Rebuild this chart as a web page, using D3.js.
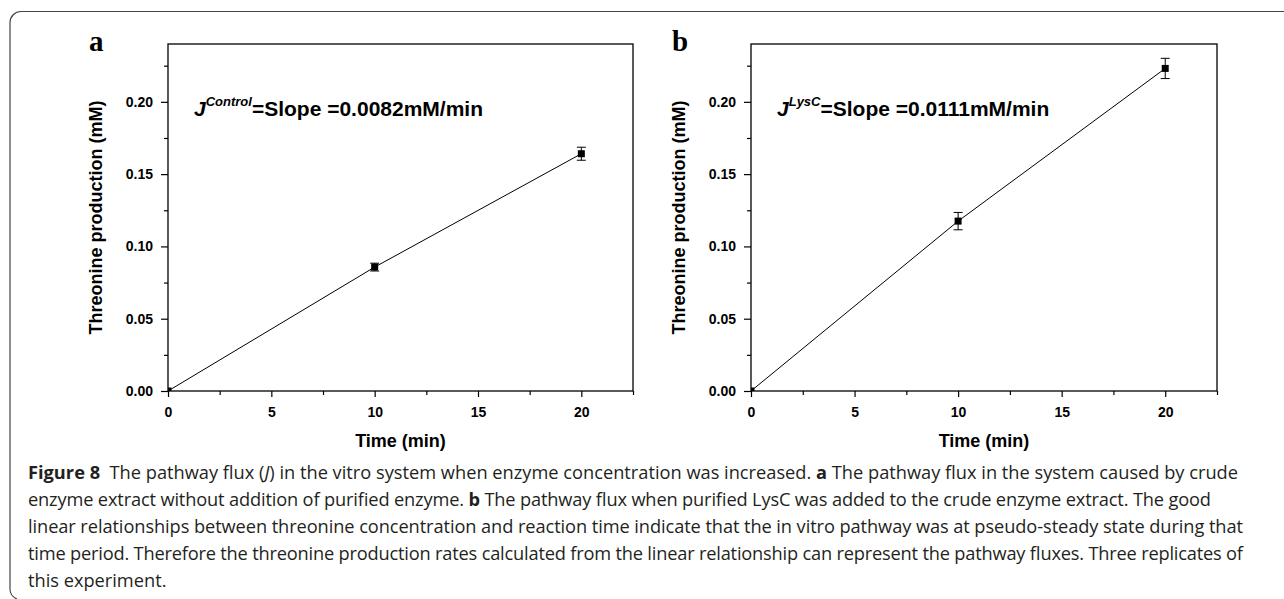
<!DOCTYPE html>
<html>
<head>
<meta charset="UTF-8">
<script src="https://d3js.org/d3.v7.min.js"></script>
<style>
  body { margin: 0; background: #fff; }
  svg { display: block; }
  .tick text { font-family: "Liberation Sans", Arial, sans-serif; font-weight: bold; font-size: 14px; fill: #000; }
  .tick line { stroke: #000; stroke-width: 1.2; }
  .caption { font-family: "Open Sans", sans-serif; fill: #231f20; white-space: pre; }
</style>
</head>
<body>
<svg width="1284" height="599"></svg>
<script>
// values
var time = [0, 10, 20];
var controlVals = [0, 0.0857, 0.1641];
var controlErr = [0, 0.0027, 0.0045];
var lyscVals = [0, 0.1175, 0.2231];
var lyscErr = [0, 0.006, 0.007];

var xTicks = [0, 5, 10, 15, 20];
var xMinor = [2.5, 7.5, 12.5, 17.5, 22.5];
var yTicks = [0, 0.05, 0.10, 0.15, 0.20];
var yMinor = [0.025, 0.075, 0.125, 0.175, 0.225];

var panelLetters = ["a", "b"];
var supLabels = ["Control", "LysC"];
var slopeLabels = ["=Slope =0.0082mM/min", "=Slope =0.0111mM/min"];

var captionLines = [
  [["Figure 8", "b"], ["  The pathway flux ("], ["J", "i"], [") in the vitro system when enzyme concentration was increased. "], ["a", "b"], [" The pathway flux in the system caused by crude"]],
  [["enzyme extract without addition of purified enzyme. "], ["b", "b"], [" The pathway flux when purified LysC was added to the crude enzyme extract. The good"]],
  [["linear relationships between threonine concentration and reaction time indicate that the in vitro pathway was at pseudo-steady state during that"]],
  [["time period. Therefore the threonine production rates calculated from the linear relationship can represent the pathway fluxes. Three replicates of"]],
  [["this experiment."]]
];
var captionWidths = [1210, 1183, 1215, 1215, 0];

var svg = d3.select("svg");

// outer frame (top + left, rounded corners)
svg.append("path")
  .attr("d", "M1284,11.5 H21 A11,11 0 0 0 10,22.5 V588 A11,11 0 0 0 17,599")
  .attr("fill", "none").attr("stroke", "#444").attr("stroke-width", 1.2);

var plotTop = 44, plotBottom = 391;
var panels = [
  {left: 168, right: 633, vals: controlVals, err: controlErr},
  {left: 751, right: 1217, vals: lyscVals, err: lyscErr}
];

var y = d3.scaleLinear().domain([0, 0.24]).range([plotBottom, plotTop]);

panels.forEach(function(p, i) {
  var x = d3.scaleLinear().domain([0, 22.5]).range([p.left, p.right]);
  var g = svg.append("g");

  g.append("clipPath").attr("id", "clip" + i)
    .append("rect").attr("x", p.left).attr("y", plotTop)
    .attr("width", p.right - p.left).attr("height", plotBottom - plotTop);

  // minor ticks
  g.append("g").attr("transform", "translate(" + p.left + ",0)")
    .call(d3.axisLeft(y).tickValues(yMinor).tickSize(4).tickFormat(""))
    .call(function(s) { s.select(".domain").remove(); });
  g.append("g").attr("transform", "translate(0," + plotBottom + ")")
    .call(d3.axisBottom(x).tickValues(xMinor).tickSize(4).tickFormat(""))
    .call(function(s) { s.select(".domain").remove(); });

  // major ticks
  g.append("g").attr("transform", "translate(" + p.left + ",0)")
    .call(d3.axisLeft(y).tickValues(yTicks).tickSize(7).tickPadding(8).tickFormat(d3.format(".2f")))
    .call(function(s) { s.select(".domain").remove(); });
  g.append("g").attr("transform", "translate(0," + plotBottom + ")")
    .call(d3.axisBottom(x).tickValues(xTicks).tickSize(6).tickPadding(10).tickFormat(d3.format("d")))
    .call(function(s) { s.select(".domain").remove(); });

  // frame
  g.append("rect")
    .attr("x", p.left).attr("y", plotTop)
    .attr("width", p.right - p.left).attr("height", plotBottom - plotTop)
    .attr("fill", "none").attr("stroke", "#000").attr("stroke-width", 1.3);

  var pts = time.map(function(t, k) { return {t: t, v: p.vals[k], e: p.err[k]}; });

  g.append("path").datum(pts)
    .attr("d", d3.line().x(function(d) { return x(d.t); }).y(function(d) { return y(d.v); }))
    .attr("fill", "none").attr("stroke", "#000").attr("stroke-width", 1);

  var eb = g.selectAll(".eb").data(pts.filter(function(d) { return d.e > 0; })).enter().append("g");
  eb.append("line")
    .attr("x1", function(d) { return x(d.t); }).attr("x2", function(d) { return x(d.t); })
    .attr("y1", function(d) { return y(d.v - d.e); }).attr("y2", function(d) { return y(d.v + d.e); })
    .attr("stroke", "#000");
  eb.append("line")
    .attr("x1", function(d) { return x(d.t) - 4.5; }).attr("x2", function(d) { return x(d.t) + 4.5; })
    .attr("y1", function(d) { return y(d.v + d.e); }).attr("y2", function(d) { return y(d.v + d.e); })
    .attr("stroke", "#000");
  eb.append("line")
    .attr("x1", function(d) { return x(d.t) - 4.5; }).attr("x2", function(d) { return x(d.t) + 4.5; })
    .attr("y1", function(d) { return y(d.v - d.e); }).attr("y2", function(d) { return y(d.v - d.e); })
    .attr("stroke", "#000");

  g.append("g").attr("clip-path", "url(#clip" + i + ")")
    .selectAll("rect").data(pts).enter().append("rect")
    .attr("x", function(d) { return x(d.t) - 3.5; })
    .attr("y", function(d) { return y(d.v) - 3.5; })
    .attr("width", 7).attr("height", 7).attr("fill", "#000");

  // axis titles
  g.append("text")
    .attr("x", (p.left + p.right) / 2).attr("y", 447)
    .attr("text-anchor", "middle")
    .style("font-family", "'Liberation Sans', Arial, sans-serif").style("font-weight", "bold").style("font-size", "18px")
    .text("Time (min)");
  g.append("text")
    .attr("transform", "translate(" + (p.left - 66) + "," + ((plotTop + plotBottom) / 2) + ") rotate(-90)")
    .attr("text-anchor", "middle")
    .style("font-family", "'Liberation Sans', Arial, sans-serif").style("font-weight", "bold").style("font-size", "18px")
    .text("Threonine production (mM)");

  // panel letter
  g.append("text")
    .attr("x", p.left - 79).attr("y", 51)
    .style("font-family", "'Liberation Serif', 'Times New Roman', serif").style("font-weight", "bold").style("font-size", "29px")
    .text(panelLetters[i]);

  // slope annotation
  var ann = g.append("text")
    .attr("x", p.left + 26).attr("y", 116)
    .style("font-family", "'Liberation Sans', Arial, sans-serif").style("font-weight", "bold").style("font-size", "21px");
  ann.append("tspan").style("font-style", "italic").text("J");
  ann.append("tspan").style("font-style", "italic").style("font-size", "13px").attr("dy", -10).text(supLabels[i]);
  ann.append("tspan").attr("dy", 10).text(slopeLabels[i]);
});

// caption
var capY = [479, 506, 533, 560, 587];
var cap = svg.append("g");
var capTexts = captionLines.map(function(parts, k) {
  var t = cap.append("text").attr("class", "caption").attr("x", 28).attr("y", capY[k]).style("font-size", "16px");
  parts.forEach(function(pt) {
    var s = t.append("tspan").text(pt[0]);
    if (pt[1] === "b") s.style("font-weight", "bold");
    if (pt[1] === "i") s.style("font-style", "italic");
  });
  return t;
});
// size from the first line, then stretch each full line to its width in the figure
var w0 = capTexts[0].node().getComputedTextLength();
var fs = 16 * 1210 / w0;
capTexts.forEach(function(t, k) {
  t.style("font-size", fs + "px");
  if (captionWidths[k] > 0) t.attr("textLength", captionWidths[k]).attr("lengthAdjust", "spacing");
});
</script>
</body>
</html>
